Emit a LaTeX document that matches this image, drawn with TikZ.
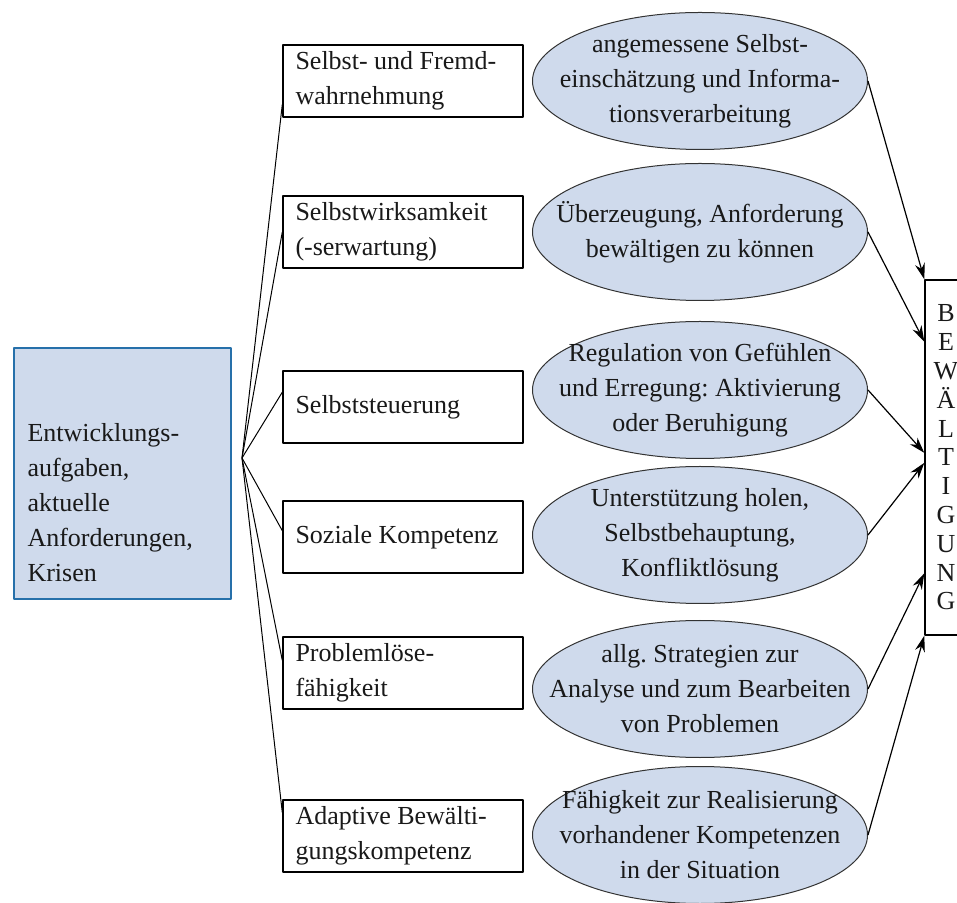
\documentclass[tikz,border=0pt]{standalone}
\usepackage{fontspec}
\setmainfont{Liberation Serif}
\usetikzlibrary{arrows.meta,calc,shapes.geometric}
\definecolor{paleblue}{RGB}{207,218,236}
\definecolor{frameblue}{RGB}{38,112,170}

\begin{document}
\begin{tikzpicture}[x=1pt, y=1pt, line join=round, >={Stealth[length=16pt,width=10pt]},
  every node/.style={font=\fontsize{26}{35}\selectfont\frenchspacing, text=black!90},
  start/.style={draw=frameblue, line width=2pt, fill=paleblue, text width=190pt, inner xsep=13.5pt, inner ysep=0pt, align=flush left},
  skill/.style={draw, line width=1.4pt, minimum width=240pt, minimum height=72pt, text width=215pt, inner xsep=12.5pt, align=flush left},
  means/.style={ellipse, draw=black!80, line width=1pt, fill=paleblue, minimum width=335pt, minimum height=137pt, inner xsep=-45pt, inner ysep=-25pt, align=center},
  fan/.style={line width=1pt},
  toend/.style={->, line width=1.2pt}]
  \useasboundingbox (0,0) rectangle (957,902);

  \node[start, anchor=north west, text height=94pt, text depth=157pt] (start) at (13,555)
    {Entwicklungs-\\aufgaben,\\aktuelle\\Anforderungen,\\Krisen};
  \coordinate (fan) at (242,444);

  \node[skill] (s1) at (403,821) {Selbst- und Fremd-\\wahrnehmung};
  \node[skill] (s2) at (403,670) {Selbstwirksamkeit\\(-serwartung)};
  \node[skill] (s3) at (403,495) {Selbststeuerung};
  \node[skill] (s4) at (403,365) {Soziale Kompetenz};
  \node[skill] (s5) at (403,229) {Problemlöse-\\fähigkeit};
  \node[skill] (s6) at (403,66) {Adaptive Bewälti-\\gungskompetenz};

  \node[means] (m1) at (700,821) {angemessene Selbst-\\einschätzung und Informa-\\tionsverarbeitung};
  \node[means] (m2) at (700,670) {Überzeugung, Anforderung\\bewältigen zu können};
  \node[means] (m3) at (700,512) {Regulation von Gefühlen\\und Erregung: Aktivierung\\oder Beruhigung};
  \node[means] (m4) at (700,367) {Unterstützung holen,\\Selbstbehauptung,\\Konfliktlösung};
  \node[means] (m5) at (700,213) {allg. Strategien zur\\Analyse und zum Bearbeiten\\von Problemen};
  \node[means] (m6) at (700,67) {Fähigkeit zur Realisierung\\vorhandener Kompetenzen\\in der Situation};

  \node[draw, line width=1.4pt, minimum width=42pt, minimum height=355pt, align=center,
    font=\fontsize{26}{28.8}\selectfont] (bew) at (946,444.5)
    {B\\E\\W\\Ä\\L\\T\\I\\G\\U\\N\\G};

  \foreach \b/\a in {s1/191, s2/180, s3/173, s4/177, s5/174, s6/169}
    \draw[fan] (fan) -- (\b.\a);
  \foreach \m/\f in {m1/0, m2/0.175, m3/0.487, m4/0.515, m5/0.825, m6/1}
    \draw[toend] (\m.east) -- ($(bew.north west)!\f!(bew.south west)$);
\end{tikzpicture}
\end{document}
